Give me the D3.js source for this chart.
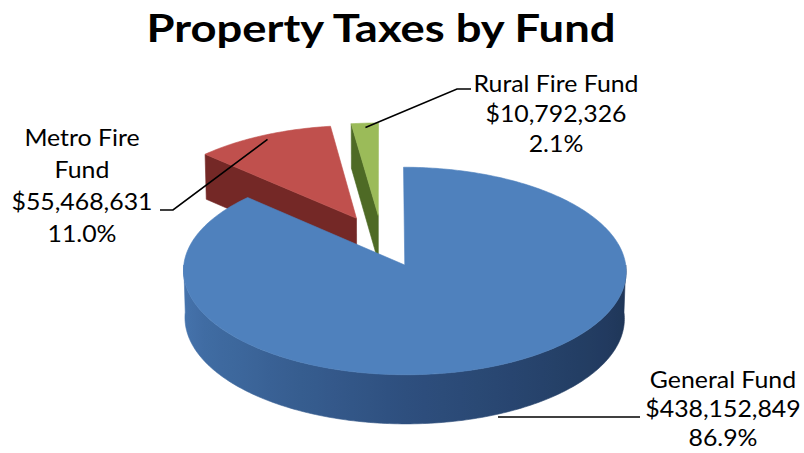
<!DOCTYPE html>
<html>
<head>
<meta charset="utf-8">
<script src="https://cdn.jsdelivr.net/npm/d3@7"></script>
<style>
  body { margin: 0; background: #ffffff; }
  svg { display: block; }
</style>
</head>
<body>
<svg id="chart" width="804" height="453"></svg>
<script>
// ---- data ----
const funds = ["General Fund", "Metro Fire Fund", "Rural Fire Fund"];
const amounts = [438152849, 55468631, 10792326];
const labelLines = [["General Fund"], ["Metro Fire", "Fund"], ["Rural Fire Fund"]];
const chartTitle = "Property Taxes by Fund";

// ---- styling ----
const topColors = ["#4F81BD", "#C0504D", "#9BBB59"];
const cutColors = ["#2E4F7E", "#742826", "#4E6A25"];
const fontFamily = "Lato, 'Open Sans', sans-serif";

// ---- 3D projection of the pie ----
const geo = {
  cx: 382, cy: 241,      // screen position of the pie axis
  R: 218,                // radius in world units
  tilt: 27.5 * Math.PI / 180, // elevation of the viewer
  H: 53,                 // thickness of the pie
  f: 3400,               // perspective distance
  explode: 56            // distance each slice is pulled out
};
const sinT = Math.sin(geo.tilt), cosT = Math.cos(geo.tilt);

// a: angle clockwise from 12 o'clock, r: 0..1 radial, z: 0 (top) .. 1 (bottom)
function project(slice, a, r, z) {
  const m = (slice.startAngle + slice.endAngle) / 2;
  const u = geo.explode * Math.sin(m) + r * geo.R * Math.sin(a);
  const w = -geo.explode * Math.cos(m) - r * geo.R * Math.cos(a);
  const h = z * geo.H;
  const depth = -w * cosT + h * sinT;
  const s = geo.f / (geo.f + depth);
  return [geo.cx + u * s, geo.cy + (w * sinT + h * cosT) * s];
}

const total = d3.sum(amounts);
const pie = d3.pie().sort(null).startAngle(0).endAngle(2 * Math.PI);
const slices = pie(amounts).map((d, i) => ({ ...d, i }));

const svg = d3.select("#chart");
const defs = svg.append("defs");
const line = d3.line();

function arcPoints(slice, a0, a1, r, z) {
  const n = Math.max(2, Math.ceil(Math.abs(a1 - a0) / (Math.PI / 180)));
  return d3.range(n + 1).map(k => project(slice, a0 + (a1 - a0) * k / n, r, z));
}

// back slices first, front slice last
const order = slices.slice().sort((a, b) => {
  const ma = (a.startAngle + a.endAngle) / 2, mb = (b.startAngle + b.endAngle) / 2;
  return (-Math.cos(ma)) - (-Math.cos(mb));
});

// wall lighting: light on the left, dark on the right
const wallShade = d3.scaleLinear()
  .domain([Math.PI / 2, 3 * Math.PI / 4, Math.PI, 5 * Math.PI / 4, 3 * Math.PI / 2])
  .range(["#1E3354", "#243F66", "#2E4F7E", "#3C669B", "#4776B0"])
  .interpolate(d3.interpolateRgb);

const gPie = svg.append("g");

order.forEach(sl => {
  const g = gPie.append("g").attr("class", "slice");
  const i = sl.i;

  // radial cut faces facing the viewer
  [[sl.startAngle, Math.sin(sl.startAngle) < -1e-6],
   [sl.endAngle, Math.sin(sl.endAngle) > 1e-6]].forEach(([a, visible]) => {
    if (!visible) return;
    const pts = [project(sl, a, 0, 0), project(sl, a, 1, 0), project(sl, a, 1, 1), project(sl, a, 0, 1)];
    g.append("path")
      .attr("d", line(pts) + "Z")
      .attr("fill", cutColors[i])
      .attr("stroke", cutColors[i])
      .attr("stroke-width", 0.6);
  });

  // outer wall, front half only, shaded with a horizontal gradient
  const w0 = Math.max(sl.startAngle, Math.PI / 2);
  const w1 = Math.min(sl.endAngle, 3 * Math.PI / 2);
  if (w1 > w0) {
    const xs = d3.range(0, 41).map(k => {
      const a = w0 + (w1 - w0) * k / 40;
      return { a, x: project(sl, a, 1, 0.5)[0] };
    });
    const xMin = d3.min(xs, d => d.x), xMax = d3.max(xs, d => d.x);
    const grad = defs.append("linearGradient")
      .attr("id", "wall" + i)
      .attr("gradientUnits", "userSpaceOnUse")
      .attr("x1", xMin).attr("x2", xMax).attr("y1", 0).attr("y2", 0);
    xs.slice().sort((p, q) => p.x - q.x).forEach(d => {
      grad.append("stop")
        .attr("offset", (d.x - xMin) / (xMax - xMin))
        .attr("stop-color", wallShade(d.a));
    });
    const wallPts = arcPoints(sl, w0, w1, 1, 0).concat(arcPoints(sl, w1, w0, 1, 1));
    g.append("path")
      .attr("d", line(wallPts) + "Z")
      .attr("fill", `url(#wall${i})`)
      .attr("stroke", `url(#wall${i})`)
      .attr("stroke-width", 0.6);
  }

  // top face
  const topPts = [project(sl, 0, 0, 0)].concat(arcPoints(sl, sl.startAngle, sl.endAngle, 1, 0));
  g.append("path")
    .attr("d", line(topPts) + "Z")
    .attr("fill", topColors[i])
    .attr("stroke", topColors[i])
    .attr("stroke-width", 0.6);
});

// ---- title ----
svg.append("text")
  .attr("x", 381)
  .attr("y", 42)
  .attr("text-anchor", "middle")
  .attr("font-family", fontFamily)
  .attr("font-weight", 700)
  .attr("font-size", 39)
  .attr("textLength", 469)
  .attr("lengthAdjust", "spacingAndGlyphs")
  .attr("fill", "#000")
  .text(chartTitle);

// ---- data labels with leader lines ----
const money = d3.format("$,");
const pct = d3.format(".1%");

// label block centre/baseline and leader line routing for each fund
const labelLayout = [
  { x: 723, y: 388, lead: 29, anchor: { r: 1, z: 1, da: -0.045 }, bend: [[640, 417]] },
  { x: 82, y: 146, lead: 32, anchor: { r: 0.95, z: 0, da: 0 }, bend: [[173, 210], [160, 210]] },
  { x: 556, y: 92, lead: 30, anchor: { r: 0.95, z: 0, da: 0 }, bend: [[457, 89], [471, 89]] }
];
const labelStretch = 1.08;

slices.forEach(sl => {
  const i = sl.i;
  const L = labelLayout[i];
  const m = (sl.startAngle + sl.endAngle) / 2 + L.anchor.da;
  const start = project(sl, m, L.anchor.r, L.anchor.z);
  let pts = [start].concat(L.bend);
  if (i === 0) pts = [[498, L.bend[0][1]], L.bend[0]];
  svg.append("path")
    .attr("d", line(pts))
    .attr("fill", "none")
    .attr("stroke", "#000")
    .attr("stroke-width", 1.6);

  const lines = labelLines[i].concat([money(amounts[i]), pct(amounts[i] / total)]);
  lines.forEach((s, k) => {
    const t = svg.append("text")
      .attr("x", L.x)
      .attr("y", L.y + k * L.lead)
      .attr("text-anchor", "middle")
      .attr("font-family", fontFamily)
      .attr("font-size", 23)
      .attr("fill", "#000")
      .text(s);
    const w = t.node().getComputedTextLength();
    t.attr("textLength", w * labelStretch).attr("lengthAdjust", "spacingAndGlyphs");
  });
});
</script>
</body>
</html>
